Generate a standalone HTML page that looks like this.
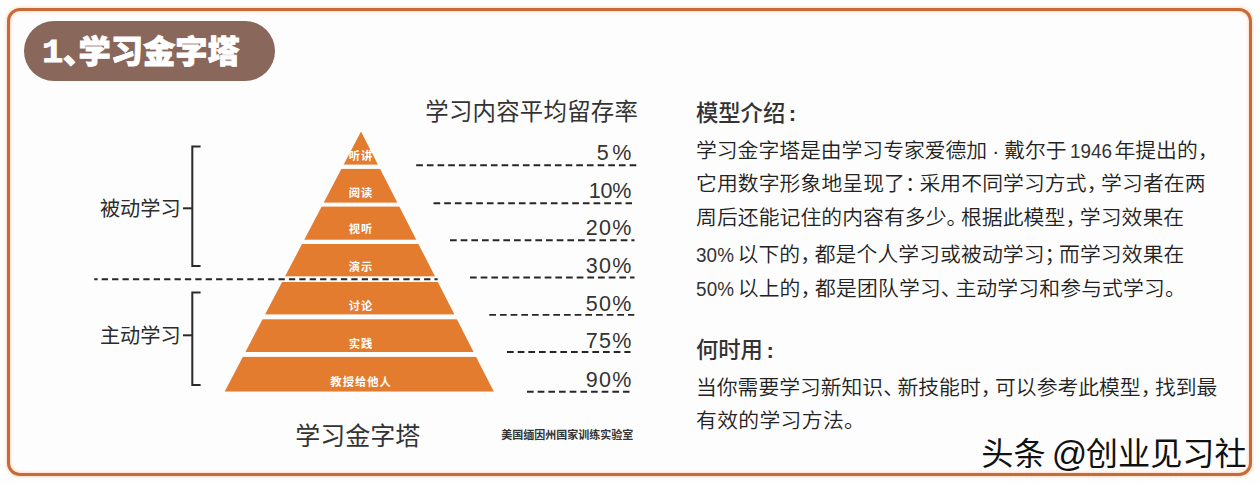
<!DOCTYPE html>
<html lang="zh-CN">
<head>
<meta charset="utf-8">
<title>学习金字塔</title>
<style>
  html, body { margin: 0; padding: 0; }
  body {
    width: 1260px; height: 484px; overflow: hidden; position: relative;
    background: #fefefe;
    font-family: "Liberation Sans", "Noto Sans CJK SC", sans-serif;
    color: #2e2e2e;
  }
  .abs { position: absolute; white-space: nowrap; line-height: 1; }
  svg.art { position: absolute; left: 0; top: 0; }

  /* outer frame */
  .frame {
    position: absolute; left: 7px; top: 8px; width: 1238.5px; height: 461.5px;
    border: 3px solid #c66b37; border-radius: 13px;
    box-shadow: inset 0 0 3px 1px #ffdcc4, 0 0 3px 0.5px #ffdcc4;
    background: #fdfdfd;
  }

  /* title badge */
  .badge {
    position: absolute; left: 24px; top: 21px; width: 251.3px; height: 60px;
    border-radius: 30px; background: #89675a;
  }
  .badge-text {
    left: 42px; top: 36px; font-size: 32.3px; font-weight: 900; color: #fff;
    letter-spacing: 0; -webkit-text-stroke: 0.8px #fff; paint-order: stroke fill;
  }
  .badge-text .one { display: inline-block; font-family: "Liberation Mono", monospace; font-weight: 700; margin-right: 1.4px; margin-left: 1px; position: relative; top: -1.3px; transform: scaleX(1.1); transform-origin: 50% 50%; }
  .badge-text .dun { display: inline-block; width: 15.6px; margin-left: -1px; }

  /* pyramid labels */
  .plabel {
    font-size: 11.3px; font-weight: 700; color: #fff; width: 120px; left: 300.6px;
    text-align: center; letter-spacing: 1px; text-indent: 1px;
  }

  .side { font-size: 20.2px; font-weight: 400; left: 99.9px; color: #2b2b2b; }
  .pct  { font-size: 21.5px; font-weight: 400; color: #333; width: 80px; left: 552.5px; text-align: right; letter-spacing: 1.2px; }
  .hdr  { font-size: 23.4px; font-weight: 400; left: 425.3px; top: 100.6px; color: #333; letter-spacing: 0.25px; }
  .cap  { font-size: 25px; font-weight: 400; left: 295.3px; top: 423.5px; color: #333; }
  .src  { font-size: 11px; font-weight: 700; left: 501.3px; top: 430.3px; color: #333; }

  .h2   { font-size: 22.3px; font-weight: 500; left: 696px; color: #333; }
  .line { font-size: 20.8px; font-weight: 350; left: 696px; color: #222;
          white-space: nowrap; }
  .line.nj { text-align: left; text-align-last: left; white-space: nowrap; }
  .line .d { display: inline-block; font-size: 20.5px; transform: scaleX(0.92); transform-origin: 0 50%; margin: 0 0.2px 0 0; color: #333; }
  .line .d.y { margin: 0 -0.7px 0 3px; }
  .line .p { margin-right: -0.31em; }
  .line .m { display: inline-block; width: 0.82em; text-align: center; }
  .h2 .co { font-weight: 700; margin-left: 3.5px; }

  .wm {
    left: 981.3px; top: 438px; font-size: 32.2px; font-style: normal; color: #111;
    font-weight: 400;
    word-spacing: -3px;
    text-shadow: -1px -1px 0 #fff, 1px 1px 0 #fff, -1.5px 0 0 #fff, 0 -1.5px 0 #fff, 1px -1px 0 #fff, -1px 1px 0 #fff;
  }
  .wm .at { font-size: 35px; margin-right: -1.4px; line-height: 0; position: relative; top: 1px; }
</style>
</head>
<body>
<div class="frame"></div>

<div class="badge"></div>
<div class="abs badge-text"><span class="one">1</span><span class="dun">、</span>学习金字塔</div>

<svg class="art" width="1260" height="484" viewBox="0 0 1260 484">
  <defs>
    <clipPath id="tri">
      <polygon points="361,131.5 493.9,391.7 224.6,391.7"/>
    </clipPath>
  </defs>
  <!-- pyramid layers -->
  <g clip-path="url(#tri)" fill="#e37c2e">
    <rect x="200" y="120"   width="320" height="44.6"/>
    <rect x="200" y="168.9" width="320" height="33.7"/>
    <rect x="200" y="206.6" width="320" height="33.1"/>
    <rect x="200" y="244"   width="320" height="32.3"/>
    <rect x="200" y="282" width="320" height="32.4"/>
    <rect x="200" y="319.3" width="320" height="32.7"/>
    <rect x="200" y="356.9" width="320" height="34.8"/>
  </g>

  <!-- long divider -->
  <g stroke="#262626" stroke-width="1.9" fill="none">
    <line x1="94.2"  y1="279.3" x2="437.6" y2="279.3" stroke-dasharray="6.3 4.1" stroke-dashoffset="2.9"/>
  </g>
  <!-- percentage guide lines -->
  <g stroke="#262626" stroke-width="1.9" stroke-dasharray="6.7 3.97" fill="none">
    <line x1="416.2" y1="165.3" x2="636.5" y2="165.3"/>
    <line x1="433.5" y1="203.3" x2="632"   y2="203.3"/>
    <line x1="450"   y1="240.2" x2="634.5" y2="240.2"/>
    <line x1="470"   y1="277.5" x2="634.5" y2="277.5"/>
    <line x1="489.3" y1="314.9" x2="634.3" y2="314.9"/>
    <line x1="507"   y1="352"   x2="630.5" y2="352"/>
    <line x1="527"   y1="391.7" x2="629.5" y2="391.7"/>
  </g>

  <!-- brackets -->
  <g stroke="#2a2a2a" stroke-width="2" fill="none" stroke-linejoin="miter">
    <polyline points="200.6,146.5 192.3,146.5 192.3,266.1 200.6,266.1"/>
    <line x1="183" y1="208.3" x2="192.3" y2="208.3"/>
    <polyline points="200.6,292.4 192.3,292.4 192.3,384.9 200.6,384.9"/>
    <line x1="183" y1="335.3" x2="192.3" y2="335.3"/>
  </g>
</svg>

<!-- pyramid labels -->
<div class="abs plabel" style="top:151.0px">听讲</div>
<div class="abs plabel" style="top:188.4px">阅读</div>
<div class="abs plabel" style="top:224.1px">视听</div>
<div class="abs plabel" style="top:261.6px">演示</div>
<div class="abs plabel" style="top:300.7px">讨论</div>
<div class="abs plabel" style="top:338.9px">实践</div>
<div class="abs plabel" style="top:376.5px">教授给他人</div>

<!-- side labels -->
<div class="abs side" style="top:199.2px">被动学习</div>
<div class="abs side" style="top:326.2px">主动学习</div>

<!-- header + percentages -->
<div class="abs hdr">学习内容平均留存率</div>
<div class="abs pct" style="top:142.9px;letter-spacing:3.4px;margin-left:2.2px">5%</div>
<div class="abs pct" style="top:181.0px;letter-spacing:-0.3px;margin-left:-1.5px">10%</div>
<div class="abs pct" style="top:218.4px">20%</div>
<div class="abs pct" style="top:255.5px">30%</div>
<div class="abs pct" style="top:293.8px">50%</div>
<div class="abs pct" style="top:331.0px">75%</div>
<div class="abs pct" style="top:369.7px">90%</div>

<div class="abs cap">学习金字塔</div>
<div class="abs src">美国缅因州国家训练实验室</div>

<!-- right text -->
<div class="abs h2" style="top:103.4px">模型介绍<span class="co">:</span></div>
<div class="abs line" style="top:141.2px">学习金字塔是由学习专家爱德加<span class="m">·</span>戴尔于<span class="d y">1946</span>年提出的<span class="p">，</span></div>
<div class="abs line" style="top:174px;letter-spacing:0.1px">它用数字形象地呈现了<span class="p">：</span>采用不同学习方式<span class="p">，</span>学习者在两</div>
<div class="abs line" style="top:208px;letter-spacing:0.08px">周后还能记住的内容有多少<span class="p">。</span>根据此模型<span class="p">，</span>学习效果在</div>
<div class="abs line" style="top:245.3px;letter-spacing:0.1px"><span class="d">30%</span>以下的<span class="p">，</span>都是个人学习或被动学习<span class="p">；</span>而学习效果在</div>
<div class="abs line" style="top:278.6px;letter-spacing:0.16px"><span class="d">50%</span>以上的<span class="p">，</span>都是团队学习<span class="p">、</span>主动学习和参与式学习<span class="p">。</span></div>

<div class="abs h2" style="top:340px">何时用<span class="co">:</span></div>
<div class="abs line" style="top:377.8px">当你需要学习新知识<span class="p">、</span>新技能时<span class="p">，</span>可以参考此模型<span class="p">，</span>找到最</div>
<div class="abs line nj" style="top:411.4px;letter-spacing:0.35px">有效的学习方法<span class="p">。</span></div>

<div class="abs wm">头条 <span class="at">@</span>创业见习社</div>
</body>
</html>
